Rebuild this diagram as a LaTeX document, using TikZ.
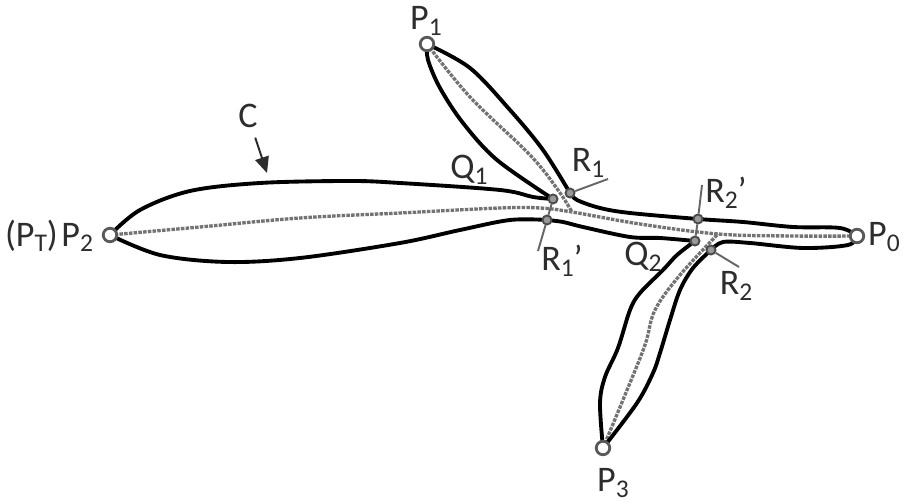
\documentclass[tikz,border=0pt]{standalone}
\usepackage{fontspec}
\setmainfont{Carlito}
\usepackage{xcolor}
\definecolor{inkgray}{RGB}{45, 45, 45}
\definecolor{midline}{RGB}{115, 115, 115}
\usepackage{tikz}
\usetikzlibrary{
    arrows.meta,
    backgrounds
}
\newcommand{\subtxt}[2]{#1\raisebox{-0.32ex}{\fontsize{14.5}{16}\selectfont #2}}

\begin{document}
\begin{tikzpicture}[
    x=0.02cm, y=-0.02cm,
    every node/.style={font=\fontsize{20.5}{22}\selectfont, text=inkgray, inner sep=0pt},
    endpt/.style={circle, draw=black!65, line width=1.6pt, fill=white, minimum size=0.27cm},
    junction/.style={circle, draw=black!70, line width=1.1pt, fill=black!40, minimum size=0.18cm},
    outline/.style={black, line width=2.2pt, line cap=round, line join=round},
    midcurve/.style={midline, line width=1.9pt, dash pattern=on 2pt off 0.7pt},
    leader/.style={black!60, line width=1.1pt}
]
\useasboundingbox (0,0) rectangle (910,502);

% End points
\node[endpt] (p0) at (857,236) {};
\node[endpt] (p1) at (427,44) {};
\node[endpt] (p2) at (110,235) {};
\node[endpt] (p3) at (603,448) {};

% Junctions
\node[junction] (q1) at (553,199) {};
\node[junction] (r1) at (570,193) {};
\node[junction] (r1p) at (547,220) {};
\node[junction] (q2) at (695,241) {};
\node[junction] (r2) at (711,250) {};
\node[junction] (r2p) at (698,219) {};

% Free ends
\coordinate (r1end) at (608,179);
\coordinate (r1pend) at (538,251);
\coordinate (r2end) at (739,267);
\coordinate (r2pend) at (702,185);
\coordinate (ctip) at (267,173);
\coordinate (hub1) at (572,212);
\coordinate (hub2) at (718,234);

% Labels
\node (lp0) at (884,237) {\subtxt{P}{0}};
\node (lp1) at (426,21) {\subtxt{P}{1}};
\node (lp2) at (49,236) {(\subtxt{P}{T})\hspace{2pt}\subtxt{P}{2}};
\node (lp3) at (613,483) {\subtxt{P}{3}};
\node (lq1) at (469,170) {\subtxt{Q}{1}};
\node (lq2) at (643,257) {\subtxt{Q}{2}};
\node (lr1) at (588,163) {\subtxt{R}{1}};
\node (lr1p) at (562,261) {\subtxt{R}{1}'};
\node (lr2) at (736,286) {\subtxt{R}{2}};
\node (lr2p) at (726,193) {\subtxt{R}{2}'};
\node (lc) at (248,116) {C};

\begin{scope}[on background layer]
% Middle curves
\draw[midcurve] plot[smooth, tension=0.6] coordinates {(p2) (200,227) (300,218) (400,213) (500,208) (540,208) (hub1) (640,224) (hub2) (790,236) (p0)};
\draw[midcurve] plot[smooth, tension=0.6] coordinates {(p1) (470,97) (530,155) (558,190) (hub1)};
\draw[midcurve] plot[smooth, tension=0.6] coordinates {(p3) (625,395) (645,345) (655,310) (680,275) (hub2)};

% Outline
\draw[outline] plot[smooth, tension=0.55] coordinates {(p2) (140,210) (190,191) (260,183) (350,181) (400,183) (500,190) (533,197) (q1)};
\draw[outline] plot[smooth, tension=0.55] coordinates {(q1) (497,160) (463,123) (440,88) (428,60) (p1)};
\draw[outline] plot[smooth, tension=0.55] coordinates {(p1) (470,68) (510,110) (543,150) (r1)};
\draw[outline] plot[smooth, tension=0.55] coordinates {(r1) (577,200) (600,208) (630,213) (r2p) (743,222) (793,227) (840,228) (p0)};
\draw[outline] plot[smooth, tension=0.55] coordinates {(p0) (848,245) (803,248) (750,243) (723,242) (r2)};
\draw[outline] plot[smooth, tension=0.55] coordinates {(r2) (693,268) (680,290) (670,320) (660,353) (653,373) (637,403) (p3)};
\draw[outline] plot[smooth, tension=0.55] coordinates {(p3) (600,403) (605,377) (618,348) (630,310) (640,293) (663,270) (677,255) (q2)};
\draw[outline] plot[smooth, tension=0.55] coordinates {(q2) (660,238) (630,237) (583,227) (563,222) (r1p)};
\draw[outline] plot[smooth, tension=0.55] coordinates {(r1p) (510,220) (460,230) (400,243) (300,258) (227,262) (160,255) (p2)};
\end{scope}

% Leaders
\draw[leader] (r1) -- (r1end);
\draw[leader] (r1p) -- (r1pend);
\draw[leader] (r2) -- (r2end);
\draw[leader] (r2p) -- (r2pend);
\draw[leader] (q1) -- (r1p);
\draw[leader] (q2) -- (r2p);

% Arrow to the curve
\draw[inkgray, line width=1.1pt, -{Triangle[length=0.32cm, width=0.28cm]}, shorten <=0.2cm] (lc) -- (ctip);

\end{tikzpicture}
\end{document}
